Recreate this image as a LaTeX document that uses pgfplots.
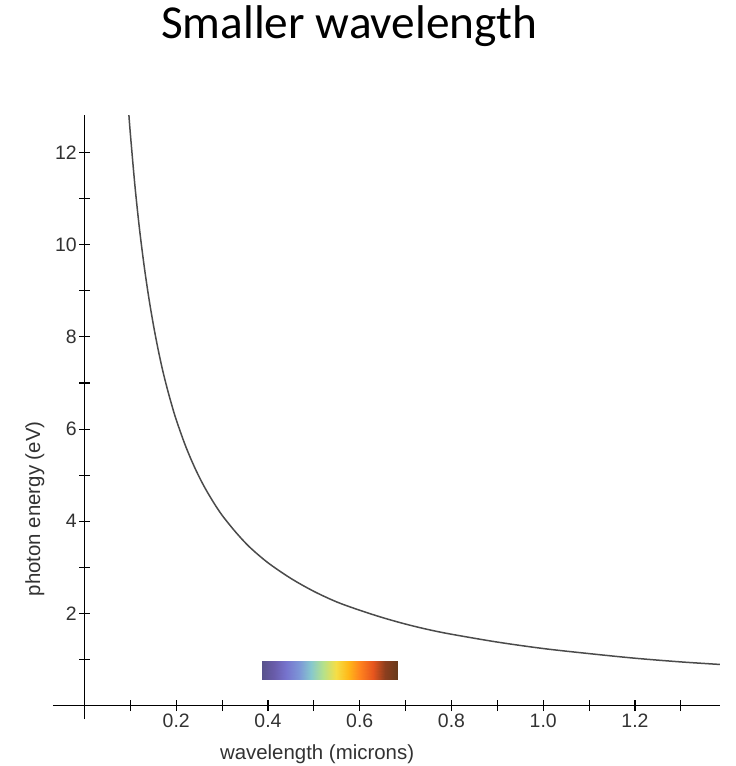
\documentclass[border=0pt]{standalone}
\usepackage{pgfplots}
\pgfplotsset{compat=1.18}
\usepackage{fontspec}
\setmainfont{Liberation Sans}
\newfontfamily\titlefont{Carlito}
\definecolor{lbl}{RGB}{50,50,50}
\definecolor{curve}{RGB}{75,75,75}
\pgfplotsset{colormap={spec}{rgb255=(88,82,140) rgb255=(105,92,170) rgb255=(118,115,205) rgb255=(125,150,215) rgb255=(135,200,205) rgb255=(180,225,140) rgb255=(245,222,70) rgb255=(255,185,25) rgb255=(255,130,30) rgb255=(230,85,30) rgb255=(140,62,30) rgb255=(105,58,28)}}
\begin{document}
\begin{tikzpicture}
\useasboundingbox (0,0) rectangle (736bp,-766bp);
\node[anchor=base, inner sep=0pt, font=\titlefont\fontsize{47.5}{52}\selectfont] at (349bp,-38bp) {Smaller wavelength};
\begin{axis}[
  at={(84.5bp,-705.7bp)}, anchor=origin,
  scale only axis, width=667bp, height=604bp,
  xmin=-0.069, xmax=1.385, ymin=-0.29, ymax=12.81,
  enlargelimits=false,
  axis lines=middle,
  axis line style={-, black, line width=1.1bp},
  every tick/.style={black, line width=1.1bp},
  tick align=center,
  major tick length=11bp, minor tick length=11bp,
  xtick={0.2,0.4,0.6,0.8,1.0,1.2},
  xticklabels={0.2,0.4,0.6,0.8,1.0,1.2},
  minor xtick={0.1,0.3,0.5,0.7,0.9,1.1,1.3},
  ytick={2,4,6,8,10,12},
  yticklabels={2,4,6,8,10,12},
  minor ytick={1,3,5,7,9,11},
  xticklabel style={font=\fontsize{19.5}{21}\selectfont, text=lbl, inner sep=0pt, anchor=north, yshift=-3bp},
  yticklabel style={font=\fontsize{19.5}{21}\selectfont, text=lbl, inner sep=0pt, anchor=east, xshift=-2bp},
  xlabel={wavelength (microns)},
  ylabel={photon energy (eV)},
  xlabel style={at={(axis cs:0.507,-1.05)}, anchor=center, font=\fontsize{20.5}{22}\selectfont, text=lbl},
  ylabel style={at={(axis cs:-0.108,4.27)}, anchor=center, rotate=90, font=\fontsize{20.5}{22}\selectfont, text=lbl},
  clip=true,
]
\addplot[surf, shader=interp, colormap name=spec, mesh/rows=2, mesh/cols=12, point meta=explicit]
table[meta=c] {
x y c
0.3860 0.56 0
0.4129 0.56 1
0.4398 0.56 2
0.4667 0.56 3
0.4936 0.56 4
0.5205 0.56 5
0.5474 0.56 6
0.5744 0.56 7
0.6013 0.56 8
0.6282 0.56 9
0.6551 0.56 10
0.6820 0.56 11
0.3860 0.976 0
0.4129 0.976 1
0.4398 0.976 2
0.4667 0.976 3
0.4936 0.976 4
0.5205 0.976 5
0.5474 0.976 6
0.5744 0.976 7
0.6013 0.976 8
0.6282 0.976 9
0.6551 0.976 10
0.6820 0.976 11
};
\addplot[curve, line width=1.5bp, smooth, no marks] coordinates {
(0.0968,12.81) (0.100,12.40) (0.110,11.27) (0.120,10.33) (0.130,9.54) (0.140,8.86)
(0.150,8.27) (0.160,7.75) (0.170,7.29) (0.180,6.89) (0.190,6.53) (0.200,6.20)
(0.220,5.64) (0.240,5.17) (0.260,4.77) (0.280,4.43) (0.300,4.13) (0.330,3.76)
(0.360,3.44) (0.400,3.10) (0.450,2.76) (0.500,2.48) (0.550,2.25) (0.600,2.07)
(0.650,1.91) (0.700,1.77) (0.750,1.65) (0.800,1.55) (0.900,1.38) (1.000,1.24)
(1.100,1.13) (1.200,1.03) (1.300,0.95) (1.385,0.895)
};
\end{axis}
\end{tikzpicture}
\end{document}
